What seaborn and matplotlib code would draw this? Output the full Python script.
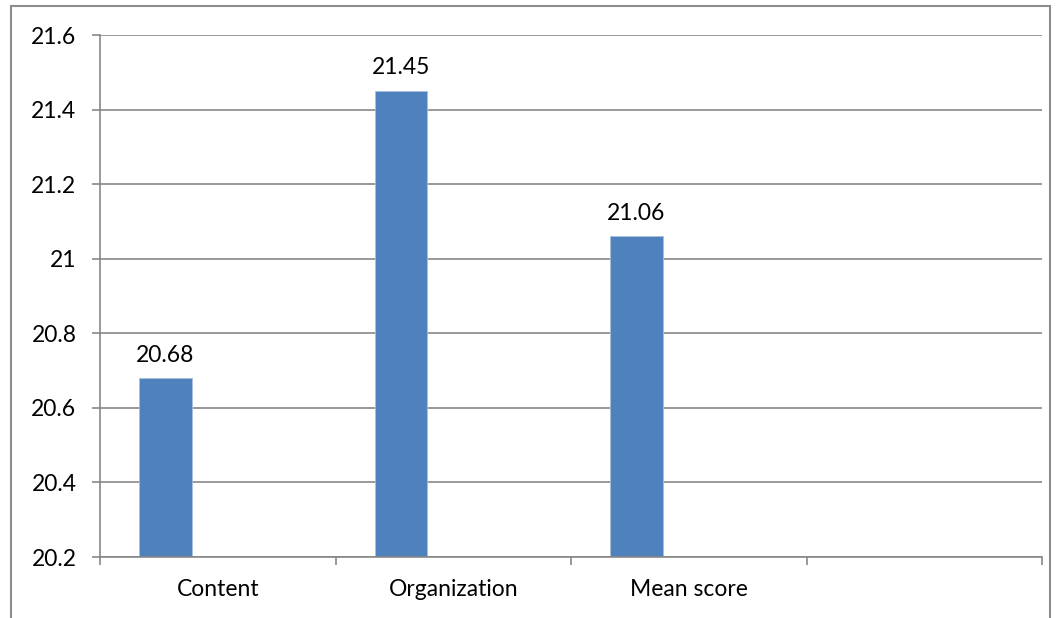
import matplotlib
matplotlib.use("Agg")
import matplotlib.pyplot as plt
import pandas as pd
import seaborn as sns
from matplotlib.patches import Rectangle
from matplotlib.ticker import FuncFormatter, MultipleLocator

# chart data
categories = ["Content", "Organization", "Mean score"]
series_names = ["Series1", "Series2", "Series3"]
series1_values = [20.68, 21.45, 21.06]
y_ticks = [20.2, 20.4, 20.6, 20.8, 21.0, 21.2, 21.4, 21.6]

BAR_COLOR = "#4F81BD"
GRID_COLOR = "#878787"
FONT = ["Lato", "DejaVu Sans"]
FONT_SIZE = 16.5


def build_frame() -> pd.DataFrame:
    rows = []
    for i, cat in enumerate(categories):
        rows.append({"category": cat, "series": series_names[0], "value": series1_values[i]})
        for name in series_names[1:]:
            rows.append({"category": cat, "series": name, "value": float("nan")})
    return pd.DataFrame(rows)


def main() -> None:
    sns.set_theme(style="white")
    plt.rcParams["font.family"] = FONT
    plt.rcParams["text.color"] = "black"
    plt.rcParams["xtick.color"] = "black"
    plt.rcParams["ytick.color"] = "black"

    df = build_frame()

    fig = plt.figure(figsize=(10.6, 6.18), dpi=100)
    ax = fig.add_axes([100 / 1060, 1 - 557 / 618, 942 / 1060, 522 / 618])

    sns.barplot(
        data=df, x="category", y="value", hue="series",
        order=categories, hue_order=series_names,
        palette=[BAR_COLOR] * 3, saturation=1, width=0.667, legend=False, ax=ax,
        edgecolor="#A8C0DE", linewidth=0.6,
    )

    ax.set_xlim(-0.5, 3.5)
    ax.set_ylim(y_ticks[0], y_ticks[-1])
    ax.set_yticks(y_ticks)
    ax.yaxis.set_major_formatter(FuncFormatter(lambda v, _: f"{v:g}"))
    ax.yaxis.grid(True, color=GRID_COLOR, linewidth=1.2)
    ax.set_axisbelow(True)

    ax.set_xlabel("")
    ax.set_ylabel("")
    ax.xaxis.set_minor_locator(MultipleLocator(1, offset=0.5))
    ax.tick_params(axis="x", which="major", length=0, pad=16, labelsize=FONT_SIZE, labelcolor="black")
    ax.tick_params(axis="x", which="minor", length=6, width=1.2, color=GRID_COLOR, direction="out", bottom=True)
    ax.tick_params(axis="y", which="major", length=6, width=1.2, color=GRID_COLOR, direction="out",
                   left=True, pad=11, labelsize=FONT_SIZE, labelcolor="black")

    for side in ["top", "right"]:
        ax.spines[side].set_visible(False)
    for side in ["left", "bottom"]:
        ax.spines[side].set_color(GRID_COLOR)
        ax.spines[side].set_linewidth(1.2)

    ax.bar_label(ax.containers[0], fmt="%.2f", padding=9, fontsize=FONT_SIZE, color="black")

    # outer chart border (bottom edge is cropped in the original)
    fig.patches.append(Rectangle((11 / 1060, -0.05), 1039 / 1060, 1.05 - 6 / 618,
                                 transform=fig.transFigure, fill=False,
                                 edgecolor="#8C8C8C", linewidth=1.5))

    fig.savefig("out.png", dpi=100)
    plt.close(fig)


if __name__ == "__main__":
    main()
